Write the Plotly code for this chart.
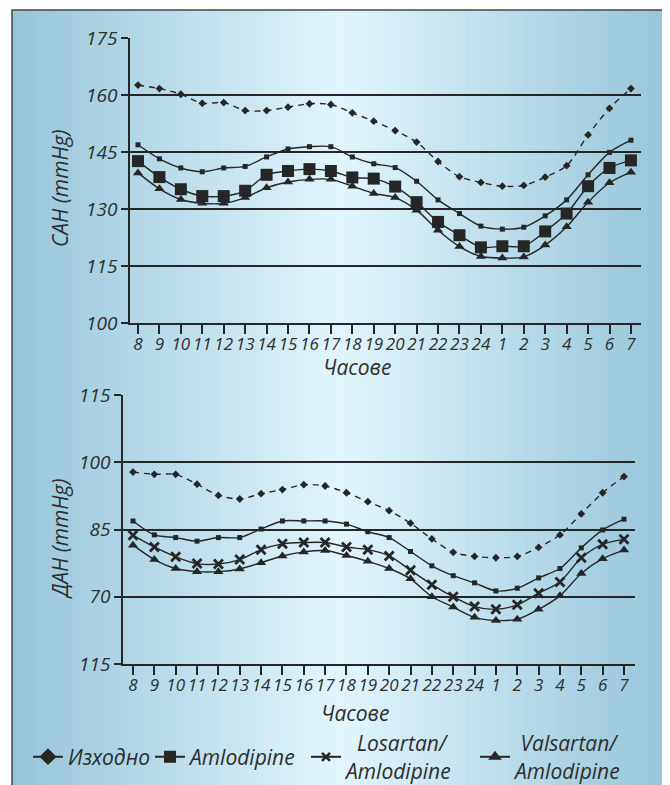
import plotly.graph_objects as go

hours = ["8", "9", "10", "11", "12", "13", "14", "15", "16", "17", "18", "19",
         "20", "21", "22", "23", "24", "1", "2", "3", "4", "5", "6", "7"]

# Systolic (САН)
sys_baseline = [162.6, 161.7, 160.2, 157.8, 158.0, 155.9, 155.9, 156.8, 157.7, 157.5, 155.3, 153.1,
                150.6, 147.6, 142.5, 138.5, 137.0, 136.0, 136.2, 138.4, 141.4, 149.5, 156.5, 161.7]
sys_amlo = [146.9, 143.2, 140.8, 139.8, 140.8, 141.2, 143.7, 145.8, 146.4, 146.4, 143.7, 141.9,
            140.9, 137.3, 132.4, 128.8, 125.5, 124.7, 125.2, 128.2, 132.4, 139.0, 144.9, 148.1]
sys_los = [142.6, 138.4, 135.2, 133.4, 133.4, 134.8, 139.0, 140.0, 140.5, 140.0, 138.3, 138.0,
           135.9, 131.8, 126.6, 123.1, 119.9, 120.2, 120.2, 124.1, 128.8, 136.0, 140.8, 142.8]
sys_val = [139.5, 135.3, 132.5, 131.5, 131.5, 133.0, 135.6, 137.1, 137.8, 137.8, 136.0, 134.1,
           133.0, 129.7, 124.4, 120.1, 117.5, 117.1, 117.4, 120.5, 125.3, 131.8, 136.9, 139.7]

# Diastolic (ДАН)
dia_baseline = [97.8, 97.3, 97.3, 95.1, 92.6, 91.8, 93.0, 93.9, 95.0, 94.7, 93.2, 91.2,
                89.2, 86.4, 82.9, 79.9, 79.0, 78.7, 79.0, 81.0, 83.8, 88.5, 93.2, 96.8]
dia_amlo = [86.9, 83.8, 83.2, 82.4, 83.2, 83.2, 85.1, 86.9, 86.9, 86.9, 86.2, 84.5,
            83.2, 80.1, 76.9, 74.7, 73.1, 71.3, 71.9, 74.2, 76.3, 80.9, 84.9, 87.3]
dia_los = [83.7, 81.1, 78.9, 77.4, 77.3, 78.3, 80.5, 81.8, 82.1, 82.1, 81.1, 80.5,
           79.1, 75.9, 72.7, 70.0, 67.8, 67.2, 68.2, 70.8, 73.3, 78.7, 81.7, 82.8]
dia_val = [81.5, 78.3, 76.3, 75.6, 75.6, 76.2, 77.6, 79.1, 80.0, 80.3, 79.2, 77.9,
           76.3, 74.0, 70.0, 67.7, 65.4, 64.7, 65.0, 67.2, 70.2, 75.2, 78.5, 80.4]

sys_ticks = [100, 115, 130, 145, 160, 175]
sys_ticktext = ["100", "115", "130", "145", "160", "175"]
dia_ticks = [55, 70, 85, 100, 115]
dia_ticktext = ["115", "70", "85", "100", "115"]

legend_names = ["Изходно", "Amlodipine", "\u00a0\u00a0Losartan/<br>Amlodipine",
                "\u00a0Valsartan/<br>Amlodipine"]

W, H = 670, 785
OFF = 8  # page offset of the plot div inside the browser window
INK = "#262626"
TXT = "#2e2e2e"
FONT = "Open Sans"

xs = list(range(len(hours)))

fig = go.Figure()

def add_line(y, xa, ya, symbol, size, dash="solid", mline=0):
    fig.add_trace(go.Scatter(
        x=xs, y=y, xaxis=xa, yaxis=ya, mode="lines+markers",
        line=dict(color=INK, width=1.4, dash=dash, shape="spline", smoothing=0.8),
        marker=dict(symbol=symbol, size=size, color=INK,
                    line=dict(color=INK, width=mline)),
        showlegend=False, hoverinfo="skip"))

# top chart
add_line(sys_baseline, "x", "y", "diamond", 6, dash="6px,5px")
add_line(sys_amlo, "x", "y", "square", 5)
add_line(sys_los, "x", "y", "square", 12)
add_line(sys_val, "x", "y", "triangle-up", 9)
# bottom chart
add_line(dia_baseline, "x2", "y2", "diamond", 6, dash="6px,5px")
add_line(dia_amlo, "x2", "y2", "square", 5)
add_line(dia_los, "x2", "y2", "x-thin", 9, mline=2.8)
add_line(dia_val, "x2", "y2", "triangle-up", 9)

def px_x(p):
    return (p - OFF) / W

def px_y(p):
    return 1 - (p - OFF) / H

# legend entries, one legend per entry so all symbols share one baseline
leg_syms = [("diamond", 13, 0), ("square", 12, 0), ("x-thin", 8, 2.5), ("triangle-up", 12, 0)]
leg_ids = ["legend", "legend2", "legend3", "legend4"]
leg_x = [28, 150, 306, 475]
for name, (sym, sz, lw), lid in zip(legend_names, leg_syms, leg_ids):
    fig.add_trace(go.Scatter(
        x=[None], y=[None], xaxis="x2", yaxis="y2", mode="lines+markers", name=name,
        line=dict(color=INK, width=2),
        marker=dict(symbol=sym, size=sz, color=INK, line=dict(color=INK, width=lw)),
        showlegend=True, legend=lid))

legend_font = dict(family=FONT, size=21, color=TXT, style="italic")
legends = {}
for lid, lx in zip(leg_ids, leg_x):
    legends[lid] = dict(orientation="h", x=px_x(lx), y=px_y(757), xanchor="left",
                        yanchor="middle", bgcolor="rgba(0,0,0,0)", font=legend_font,
                        itemsizing="trace", valign="middle", itemclick=False,
                        itemdoubleclick=False)

# gradient background
shapes = []
x_left, x_right, y_top = 12, 668, 10
n = 120
edge = (150, 197, 217)
center = (226, 245, 252)
cx = 342
for i in range(n):
    a = x_left + (x_right - x_left) * i / n
    b = x_left + (x_right - x_left) * (i + 1) / n + 0.6
    m = (a + b) / 2
    half = (cx - x_left) if m < cx else (x_right - cx)
    t = min(1.0, abs(m - cx) / half)
    col = tuple(round(center[k] + (edge[k] - center[k]) * t) for k in range(3))
    shapes.append(dict(type="rect", xref="paper", yref="paper",
                       x0=px_x(a), x1=px_x(min(b, x_right)), y0=-0.05, y1=px_y(y_top),
                       fillcolor="rgb(%d,%d,%d)" % col, line=dict(width=0), layer="below"))
shapes.append(dict(type="rect", xref="paper", yref="paper",
                   x0=px_x(x_left), x1=px_x(x_right), y0=-0.05, y1=px_y(y_top),
                   line=dict(color="#444444", width=1.5), layer="below"))

tickfont = dict(family=FONT, size=17, color=TXT, style="italic")
ytickfont = dict(family=FONT, size=19, color=TXT, style="italic")
title_font = dict(family=FONT, size=21, color=TXT, style="italic")

axis_common = dict(zeroline=False, showline=True, linecolor=INK, linewidth=1.5,
                   ticks="outside", tickcolor=INK, tickwidth=1.5, fixedrange=True,
                   automargin=False)

def title_ann(text, x, y, angle=0):
    return dict(text=text, x=px_x(x), y=px_y(y), xref="paper", yref="paper",
                xanchor="center", yanchor="middle", textangle=angle,
                showarrow=False, font=title_font)

fig.update_layout(
    width=W, height=H, margin=dict(l=0, r=0, t=0, b=0, autoexpand=False),
    paper_bgcolor="white", plot_bgcolor="rgba(0,0,0,0)",
    shapes=shapes,
    xaxis=dict(domain=[px_x(130), px_x(641)], range=[-0.373, 23.47], anchor="y",
               tickvals=xs, ticktext=hours, ticklen=9, tickfont=tickfont, tickangle=0,
               ticklabelstandoff=-4, showgrid=False, **axis_common),
    yaxis=dict(domain=[px_y(323), px_y(38)], range=[100, 175], anchor="x",
               tickvals=sys_ticks, ticktext=sys_ticktext, ticklen=7, tickfont=ytickfont,
               showgrid=True, gridcolor=INK, gridwidth=1.5, **axis_common),
    xaxis2=dict(domain=[px_x(123), px_x(635)], range=[-0.468, 23.515], anchor="y2",
                tickvals=xs, ticktext=hours, ticklen=9, tickfont=tickfont, tickangle=0,
                ticklabelstandoff=-4, showgrid=False, **axis_common),
    yaxis2=dict(domain=[px_y(664), px_y(395)], range=[55, 115], anchor="x2",
                tickvals=dia_ticks, ticktext=dia_ticktext, ticklen=7, tickfont=ytickfont,
                showgrid=True, gridcolor=INK, gridwidth=1.5, **axis_common),
    annotations=[
        title_ann("САН (mmHg)", 60, 188, -90),
        title_ann("ДАН (mmHg)", 60, 539, -90),
        title_ann("Часове", 357, 367),
        title_ann("Часове", 355, 713),
    ],
    **legends,
)

fig.write_html("out.html")
